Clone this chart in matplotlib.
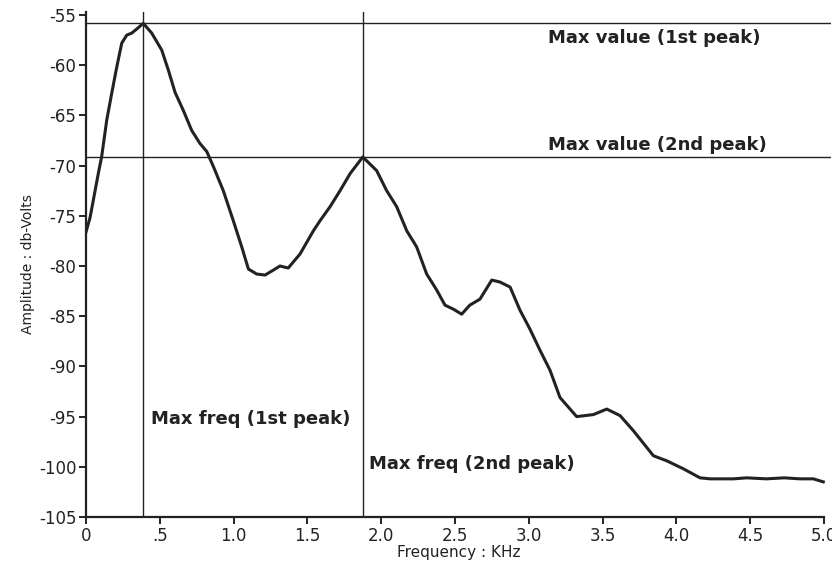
import matplotlib
matplotlib.use("Agg")
import matplotlib.pyplot as plt

# traced spectrum (KHz, db-Volts)
freq = [0.0, 0.027, 0.083, 0.106, 0.14, 0.174, 0.208, 0.242, 0.276, 0.31, 0.343,
        0.388, 0.445, 0.513, 0.558, 0.603, 0.659, 0.716, 0.772, 0.818, 0.863,
        0.93, 0.998, 1.055, 1.1, 1.156, 1.213, 1.27, 1.314, 1.37, 1.45, 1.54,
        1.585, 1.653, 1.721, 1.789, 1.875, 1.969, 2.037, 2.105, 2.173, 2.24,
        2.308, 2.376, 2.432, 2.489, 2.545, 2.60, 2.669, 2.749, 2.805, 2.873,
        2.94, 3.008, 3.076, 3.144, 3.211, 3.324, 3.437, 3.528, 3.618, 3.708,
        3.844, 3.934, 4.047, 4.16, 4.23, 4.386, 4.476, 4.61, 4.73, 4.837,
        4.928, 4.995]
amp = [-76.6, -75.2, -70.8, -69.1, -65.5, -62.8, -60.2, -57.8, -57.0, -56.8, -56.4,
       -55.83, -56.8, -58.5, -60.5, -62.7, -64.5, -66.5, -67.8, -68.6, -70.1,
       -72.5, -75.5, -78.1, -80.3, -80.8, -80.9, -80.4, -80.0, -80.2, -78.8, -76.5,
       -75.5, -74.1, -72.5, -70.8, -69.14, -70.5, -72.5, -74.1, -76.5, -78.1,
       -80.8, -82.4, -83.9, -84.3, -84.8, -83.9, -83.3, -81.4, -81.6, -82.1,
       -84.4, -86.3, -88.4, -90.4, -93.1, -95.0, -94.8, -94.25, -94.9, -96.4,
       -98.9, -99.4, -100.2, -101.1, -101.2, -101.2, -101.1, -101.2, -101.1, -101.2,
       -101.2, -101.5]

peak_freq = [0.388, 1.875]
peak_amp = [-55.83, -69.14]

xticks = [0, 0.5, 1.0, 1.5, 2.0, 2.5, 3.0, 3.5, 4.0, 4.5, 5.0]
xtick_labels = ["0", ".5", "1.0", "1.5", "2.0", "2.5", "3.0", "3.5", "4.0", "4.5", "5.0"]
yticks = [-55, -60, -65, -70, -75, -80, -85, -90, -95, -100, -105]

plt.rcParams['font.family'] = ['DejaVu Sans']
plt.rcParams['axes.unicode_minus'] = False
ink = '#222222'

fig = plt.figure(figsize=(8.32, 5.63), dpi=100)
ax = fig.add_axes([0.1034, 0.0817, 0.8959, 0.897])

ax.plot(freq, amp, color=ink, lw=2.2, solid_joinstyle='round')

for v in peak_amp:
    ax.axhline(v, color=ink, lw=1.0)
for f in peak_freq:
    ax.axvline(f, color=ink, lw=1.0)

ax.set_xlim(0, 5.05)
ax.set_ylim(-105, -54.7)
ax.spines['top'].set_visible(False)
ax.spines['right'].set_visible(False)
ax.spines['bottom'].set_bounds(0, 5.0)
for s in ('left', 'bottom'):
    ax.spines[s].set_linewidth(1.6)
    ax.spines[s].set_color(ink)

ax.set_xticks(xticks)
ax.set_xticklabels(xtick_labels)
ax.set_yticks(yticks)
ax.tick_params(axis='both', direction='out', length=5, width=1.4, color=ink,
               labelsize=12, labelcolor=ink, pad=2)

ax.set_xlabel("Frequency : KHz", fontsize=11, color=ink, labelpad=0)
ax.set_ylabel("Amplitude : db-Volts", fontsize=10, color=ink, labelpad=3)

txt = dict(fontsize=13, fontweight='bold', color=ink, va='center', ha='left')
ax.text(3.13, -57.3, "Max value (1st peak)", **txt)
ax.text(3.13, -67.9, "Max value (2nd peak)", **txt)
ax.text(0.438, -95.2, "Max freq (1st peak)", **txt)
ax.text(1.917, -99.7, "Max freq (2nd peak)", **txt)

fig.savefig("out.png", dpi=100)
